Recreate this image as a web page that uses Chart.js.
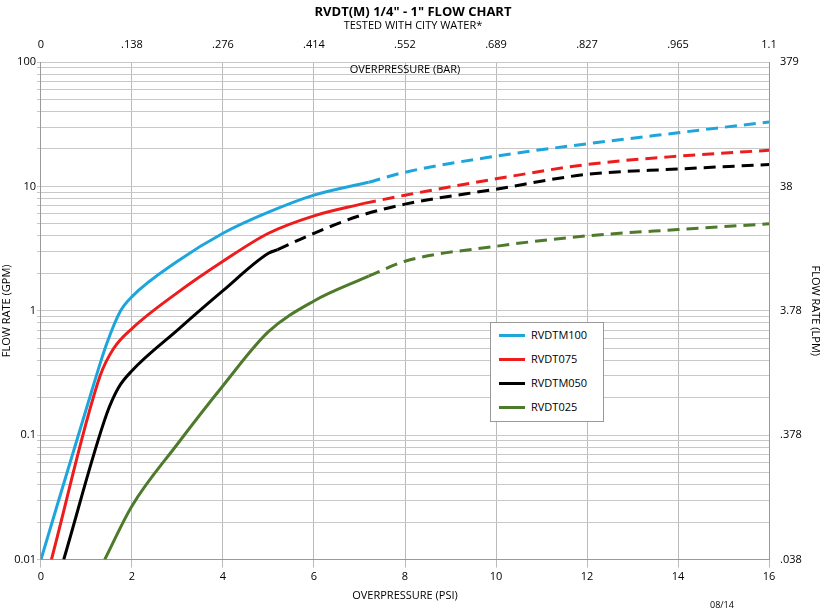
<!DOCTYPE html>
<html>
<head>
<meta charset="utf-8">
<script src="https://cdn.jsdelivr.net/npm/chart.js@4"></script>
<style>
body{margin:0;background:#fff;font-family:"Open Sans",sans-serif;}
#wrap{position:relative;width:830px;height:614px;}
#legend{position:absolute;left:490px;top:322px;width:112px;height:98px;border:1px solid #999;background:#fff;font-size:11px;}
#legend div{position:relative;height:24px;line-height:24px;padding-left:40px;margin-top:0;}
#legend div span{position:absolute;left:8px;top:11px;width:26px;height:3px;}
#date{position:absolute;left:710px;top:598px;font-size:9px;color:#000;}
</style>
</head>
<body>
<div id="wrap">
<canvas id="c" width="830" height="614"></canvas>
<div id="legend"></div>
<div id="date">08/14</div>
</div>
<script>
// [psi, gpm]
const names = ['RVDTM100','RVDT075','RVDTM050','RVDT025'];
const colors = ['#1ea6dc','#ee1c1c','#000000','#4e7a2c'];
const solid100 = [[0,0.01],[1.15,0.25],[1.45,0.55],[1.75,1],[2,1.3],[3,2.5],[4,4.2],[5,6.2],[6,8.5],[7.2,10.8]];
const dash100  = [[7.2,10.8],[8,13],[10,17.5],[12,22],[14,27],[16,33]];
const solid075 = [[0.23,0.01],[1.3,0.3],[1.6,0.5],[2,0.72],[3,1.4],[4,2.5],[5,4.2],[6,5.8],[7.1,7.3]];
const dash075  = [[7.1,7.3],[8,8.5],[10,11.5],[12,15],[14,17.5],[16,19.5]];
const solid050 = [[0.5,0.01],[1.45,0.15],[1.7,0.24],[2,0.33],[3,0.7],[4,1.45],[5,2.9],[5.2,3.1]];
const dash050  = [[5.2,3.1],[6,4.2],[7,5.8],[8,7.2],[10,9.5],[12,12.5],[14,13.8],[16,15]];
const solid025 = [[1.4,0.01],[2,0.027],[3,0.085],[4,0.25],[5,0.68],[6,1.2],[7.2,1.9]];
const dash025  = [[7.2,1.9],[8,2.5],[10,3.3],[12,4],[14,4.5],[16,5]];
const psiTicks = [0,2,4,6,8,10,12,14,16];
const barLabels = ['0','.138','.276','.414','.552','.689','.827','.965','1.1'];
const gpmMajor = [0.01,0.1,1,10,100];
const lpmLabels = ['.038','.378','3.78','38','379'];

const solids = [solid100,solid075,solid050,solid025];
const dashes = [dash100,dash075,dash050,dash025];
const datasets = [];
names.forEach(function(n,i){
  const pts = a => a.map(p => ({x:p[0], y:p[1]}));
  datasets.push({label:n, data:pts(solids[i]), borderColor:colors[i], borderWidth:3, pointRadius:0, cubicInterpolationMode:'monotone'});
  datasets.push({label:n+' ext', data:pts(dashes[i]), borderColor:colors[i], borderWidth:3, borderDash:[12,7], pointRadius:0, cubicInterpolationMode:'monotone'});
});

var lg = '';
names.forEach((n,i) => { lg += `<div><span style="background:${colors[i]}"></span>${n}</div>`; });
document.getElementById('legend').innerHTML = lg;

const allLog = [];
for (let d=-2; d<2; d++) for (let k=1; k<10; k++) allLog.push(k*Math.pow(10,d));
allLog.push(100);

const font = {family:'"Open Sans", sans-serif', size:11};
const barTitle = {
  id:'barTitle',
  afterDraw(chart){
    const ctx = chart.ctx, a = chart.chartArea;
    ctx.save();
    ctx.font = '11px "Open Sans", sans-serif';
    ctx.fillStyle = '#000'; ctx.textAlign = 'center';
    ctx.fillText('OVERPRESSURE (BAR)', (a.left+a.right)/2, a.top+11);
    ctx.restore();
  }
};

Chart.defaults.font = font;
Chart.defaults.color = '#000';
new Chart(document.getElementById('c'), {
  type:'line',
  data:{datasets},
  plugins:[barTitle],
  options:{
    responsive:false, animation:false,
    layout:{padding:{left:0,right:4,top:0,bottom:8}},
    plugins:{
      legend:{display:false},
      title:{display:true, text:'RVDT(M) 1/4" - 1" FLOW CHART', font:{size:13,weight:'bold'}, padding:{top:4,bottom:0}},
      subtitle:{display:true, text:'TESTED WITH CITY WATER*', font:{size:11}, padding:{bottom:2}},
      tooltip:{enabled:false}
    },
    scales:{
      x:{type:'linear', min:0, max:16,
        afterBuildTicks: s => { s.ticks = psiTicks.map(v => ({value:v})); },
        grid:{color:'#bbb'}, border:{color:'#999'},
        title:{display:true, text:'OVERPRESSURE (PSI)', padding:{top:2}}},
      x2:{type:'linear', position:'top', min:0, max:16,
        afterBuildTicks: s => { s.ticks = psiTicks.map(v => ({value:v})); },
        ticks:{callback:(v) => barLabels[psiTicks.indexOf(v)]},
        grid:{display:false}, border:{display:false}},
      y:{type:'logarithmic', min:0.01, max:100,
        afterBuildTicks: s => { s.ticks = allLog.map(v => ({value:v})); },
        ticks:{autoSkip:false, padding:1, callback:(v) => { const i = gpmMajor.findIndex(m => Math.abs(m-v)/m < 1e-6); return i<0 ? '' : String(gpmMajor[i]); }},
        grid:{color:'#c8c8c8', tickLength:4}, border:{color:'#999'},
        title:{display:true, text:'FLOW RATE (GPM)', padding:0}},
      y2:{type:'logarithmic', position:'right', min:0.01, max:100,
        afterBuildTicks: s => { s.ticks = gpmMajor.map(v => ({value:v})); },
        ticks:{autoSkip:false, callback:(v) => { const i = gpmMajor.findIndex(m => Math.abs(m-v)/m < 1e-6); return i<0 ? '' : lpmLabels[i]; }},
        grid:{display:false}, border:{color:'#999'},
        title:{display:true, text:'FLOW RATE (LPM)'}}
    }
  }
});
</script>
</body>
</html>
